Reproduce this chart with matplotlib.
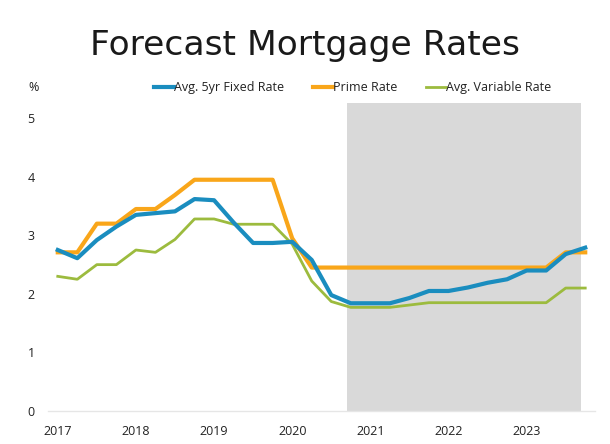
import matplotlib
matplotlib.use("Agg")
import matplotlib.pyplot as plt

years = ["2017", "2018", "2019", "2020", "2021", "2022", "2023"]
fixed_rate = [2.75, 2.61, 2.92, 3.15, 3.35, 3.38, 3.41, 3.62, 3.60, 3.22, 2.87, 2.87,
              2.89, 2.58, 1.98, 1.84, 1.84, 1.84, 1.93, 2.05, 2.05, 2.11, 2.19, 2.25,
              2.40, 2.40, 2.68, 2.79]
prime_rate = [2.71, 2.71, 3.20, 3.20, 3.45, 3.45, 3.69, 3.95, 3.95, 3.95, 3.95, 3.95,
              2.95, 2.45, 2.45, 2.45, 2.45, 2.45, 2.45, 2.45, 2.45, 2.45, 2.45, 2.45,
              2.45, 2.45, 2.71, 2.71]
variable_rate = [2.30, 2.25, 2.50, 2.50, 2.75, 2.71, 2.93, 3.28, 3.28, 3.19, 3.19, 3.19,
                 2.85, 2.22, 1.87, 1.77, 1.77, 1.77, 1.81, 1.85, 1.85, 1.85, 1.85, 1.85,
                 1.85, 1.85, 2.10, 2.10]
forecast_start = 14.83
forecast_end = 26.78

plt.rcParams['font.family'] = ['Open Sans', 'DejaVu Sans']

fig = plt.figure(figsize=(6.10, 4.44), dpi=100)
ax = fig.add_axes([48/610, 33/444, (595-48)/610, (411-89)/444])

x = list(range(len(fixed_rate)))
ax.axvspan(forecast_start, forecast_end, ymin=0, ymax=5.26/5.5, color="#D9D9D9", lw=0, zorder=0)
ax.plot(x, fixed_rate, color="#1A8DBF", lw=3.0, label="Avg. 5yr Fixed Rate", zorder=3, solid_joinstyle="round")
ax.plot(x, prime_rate, color="#F9A61A", lw=3.0, label="Prime Rate", zorder=2, solid_joinstyle="round")
ax.plot(x, variable_rate, color="#9CBB3E", lw=2.0, label="Avg. Variable Rate", zorder=1, solid_joinstyle="round")

ax.set_xlim(-0.5, 27.5)
ax.set_ylim(0, 5.5)
ax.set_xticks(range(0, 28, 4))
ax.set_xticklabels(years)
ax.set_yticks([0, 1, 2, 3, 4, 5])
ax.tick_params(axis="both", length=0, labelsize=9, colors="#222222")
ax.tick_params(axis="x", pad=10)
ax.tick_params(axis="y", pad=9.5)
for side in ["top", "right", "left"]:
    ax.spines[side].set_visible(False)
ax.spines["bottom"].set_color("#E6E6E6")
ax.spines["bottom"].set_linewidth(1.0)

ax.text((28-48)/547, 1.006, "%", transform=ax.transAxes, fontsize=9, color="#222222",
        ha="left", va="center")

fig.text(0.5, 0.897, "Forecast Mortgage Rates", ha="center", va="center",
         fontsize=24.8, color="#1a1a1a", family=["DejaVu Sans"])

leg = ax.legend(loc="center", bbox_to_anchor=(0.557, 1.004), ncol=3, frameon=False,
                fontsize=9, handlelength=1.6, handletextpad=0.0, columnspacing=2.3,
                borderaxespad=0, borderpad=0)
for t in leg.get_texts():
    t.set_color("#222222")

fig.savefig("out.png", dpi=100)
